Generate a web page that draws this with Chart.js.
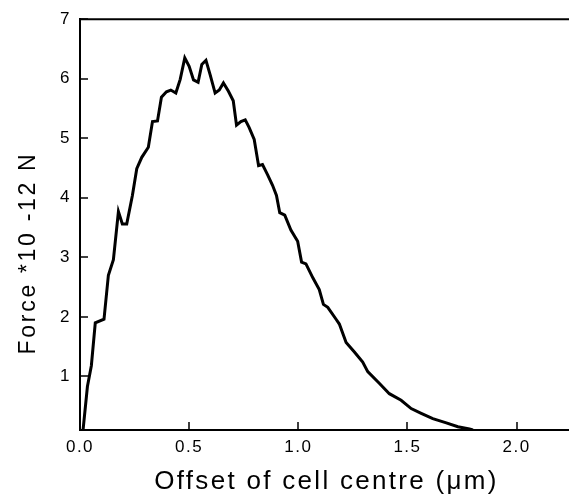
<!DOCTYPE html>
<html>
<head>
<meta charset="utf-8">
<script src="https://cdn.jsdelivr.net/npm/chart.js@4/dist/chart.umd.min.js"></script>
<style>
html,body{margin:0;padding:0;background:#fff;}
#wrap{width:569px;height:496px;position:relative;}
</style>
</head>
<body>
<div id="wrap"><canvas id="c" width="569" height="496"></canvas></div>
<script>
// Offset of cell centre (µm)
const offsets = [0.014,0.034,0.052,0.070,0.110,0.130,0.153,0.176,0.194,0.214,0.240,0.260,0.283,0.313,0.332,0.355,0.373,0.396,0.416,0.439,0.459,0.480,0.500,0.520,0.541,0.558,0.577,0.596,0.619,0.638,0.657,0.680,0.702,0.717,0.737,0.757,0.775,0.798,0.818,0.836,0.859,0.882,0.900,0.915,0.938,0.966,0.997,1.015,1.035,1.066,1.096,1.115,1.135,1.173,1.188,1.219,1.257,1.295,1.318,1.372,1.417,1.471,1.517,1.563,1.616,1.678,1.731,1.784,1.800];
// Force *10^-12 N
const forces = [0.10,0.83,1.18,1.90,1.96,2.70,2.96,3.77,3.56,3.56,4.04,4.49,4.68,4.85,5.28,5.29,5.69,5.78,5.81,5.76,5.99,6.35,6.21,5.98,5.94,6.24,6.31,6.07,5.76,5.81,5.93,5.79,5.63,5.22,5.28,5.31,5.18,4.98,4.54,4.56,4.39,4.21,4.04,3.75,3.71,3.46,3.27,2.92,2.89,2.66,2.46,2.21,2.16,1.96,1.88,1.57,1.41,1.24,1.08,0.88,0.71,0.60,0.46,0.38,0.29,0.22,0.155,0.117,0.10];
const xTickValues = [0, 0.5, 1.0, 1.5, 2.0];
const yTickValues = [1, 2, 3, 4, 5, 6, 7];
const xRange = [0, 2.24];
const yRange = [0.1, 7];
const xTitle = 'Offset of cell centre (\u03BCm)';
const yTitle = 'Force *10 -12 N';

const FONT = "'Liberation Sans', Arial, sans-serif";

const framePlugin = {
  id: 'frame',
  beforeDraw(chart) {
    chart.ctx.letterSpacing = '1.5px';
  },
  afterDraw(chart) {
    const {ctx, chartArea: a, scales: {x, y}} = chart;
    ctx.save();
    ctx.strokeStyle = '#000';
    ctx.lineWidth = 2;
    ctx.beginPath();
    ctx.moveTo(a.left - 1, a.top);
    ctx.lineTo(a.right, a.top);
    ctx.stroke();
    ctx.lineWidth = 1.5;
    ctx.beginPath();
    yTickValues.forEach(v => {
      const p = Math.round(y.getPixelForValue(v));
      ctx.moveTo(a.left, p);
      ctx.lineTo(a.left + 8, p);
    });
    xTickValues.forEach(v => {
      const p = Math.round(x.getPixelForValue(v));
      ctx.moveTo(p, a.bottom);
      ctx.lineTo(p, a.bottom - 8);
    });
    ctx.stroke();

    ctx.fillStyle = '#000';
    ctx.textAlign = 'center';
    ctx.textBaseline = 'alphabetic';
    ctx.letterSpacing = '2.3px';
    ctx.font = '26px ' + FONT;
    ctx.fillText(xTitle, (a.left + a.right) / 2 + 2, 489);

    ctx.letterSpacing = '2.7px';
    ctx.font = '23px ' + FONT;
    ctx.translate(35, 253);
    ctx.rotate(-Math.PI / 2);
    ctx.fillText(yTitle, 0, 0);
    ctx.restore();
  }
};

new Chart(document.getElementById('c'), {
  type: 'scatter',
  data: {
    datasets: [{
      data: offsets.map((v, i) => ({x: v, y: forces[i]})),
      showLine: true,
      borderColor: '#000',
      borderWidth: 3,
      pointRadius: 0,
      tension: 0,
      fill: false
    }]
  },
  options: {
    responsive: false,
    animation: false,
    devicePixelRatio: 1,
    layout: {padding: {top: 17, right: 0, left: 0, bottom: 0}},
    plugins: {legend: {display: false}, tooltip: {enabled: false}},
    scales: {
      x: {
        type: 'linear',
        min: xRange[0], max: xRange[1],
        afterBuildTicks: s => { s.ticks = xTickValues.map(v => ({value: v})); },
        afterFit: s => { s.height = 66; },
        grid: {display: false, drawTicks: false},
        border: {display: true, color: '#000', width: 2},
        ticks: {
          color: '#000', padding: 7, maxRotation: 0,
          font: {family: FONT, size: 17},
          callback: v => Number(v).toFixed(1)
        },
        title: {display: false}
      },
      y: {
        type: 'linear',
        min: yRange[0], max: yRange[1],
        afterBuildTicks: s => { s.ticks = yTickValues.map(v => ({value: v})); },
        afterFit: s => { s.width = 80; },
        grid: {display: false, drawTicks: false},
        border: {display: true, color: '#000', width: 2},
        ticks: {
          color: '#000', padding: 9,
          font: {family: FONT, size: 17},
          callback: v => String(v)
        },
        title: {display: false}
      }
    }
  },
  plugins: [framePlugin]
});
</script>
</body>
</html>
